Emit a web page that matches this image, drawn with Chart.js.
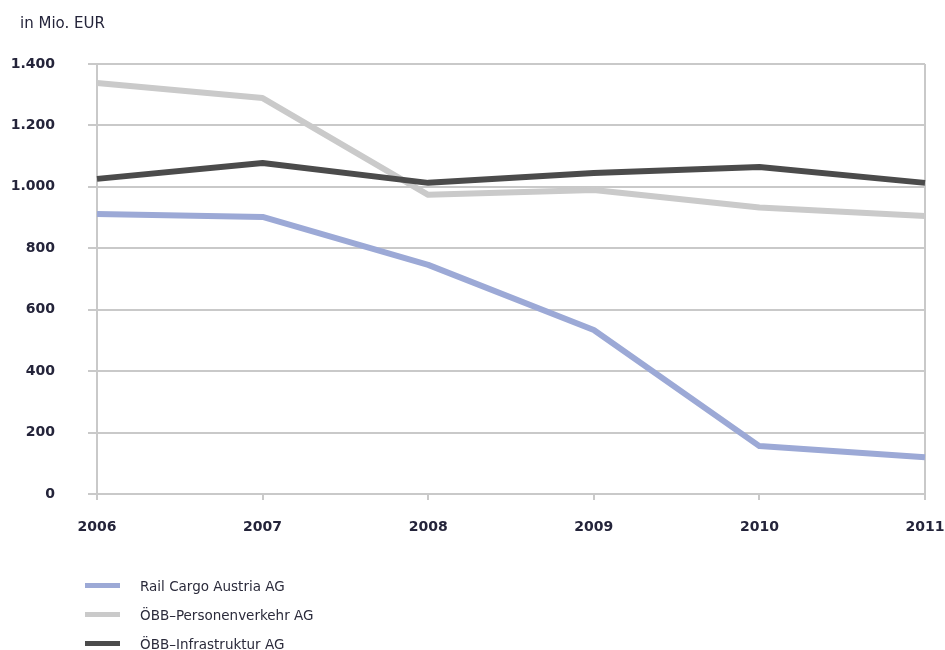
<!DOCTYPE html>
<html lang="de">
<head>
    <meta charset="UTF-8">
    <title>ÖBB Teilkonzerne | in Mio. EUR</title>
    <script src="https://cdn.jsdelivr.net/npm/chart.js"></script>
    <style>
        html, body {
            margin: 0;
            padding: 0;
            background: #ffffff;
        }
        .chart-wrap {
            position: relative;
            width: 945px;
            height: 650px;
        }
        #lineChart {
            display: block;
        }
        .einheit {
            position: absolute;
            left: 20px;
            top: 13px;
            font-family: "DejaVu Sans", sans-serif;
            font-size: 15px;
            line-height: 20px;
            color: #24243a;
        }
        /* legende unten links, wie im original */
        .legende {
            position: absolute;
            left: 85px;
            top: 571px;
            font-family: "DejaVu Sans", sans-serif;
            font-size: 13.5px;
            color: #2b2b3b;
        }
        .legende-item {
            display: flex;
            align-items: center;
            height: 29px;
        }
        .legende-item span.linie {
            display: inline-block;
            width: 35px;
            height: 5px;
            margin-right: 20px;
        }
    </style>
</head>
<body>
    <div class="chart-wrap">
        <canvas id="lineChart" width="945" height="650"></canvas>
        <div class="einheit">in Mio. EUR</div>
        <div class="legende" id="legende"></div>
    </div>
<script>
    // Daten (in Mio. EUR)
    const jahre = ['2006', '2007', '2008', '2009', '2010', '2011'];
    const railCargo = [912, 902, 746, 534, 156, 120];
    const personenverkehr = [1338, 1289, 974, 990, 933, 905];
    const infrastruktur = [1026, 1078, 1013, 1045, 1065, 1013];
    const serienNamen = ['Rail Cargo Austria AG', 'ÖBB–Personenverkehr AG', 'ÖBB–Infrastruktur AG'];
    const farben = ['#9ca9d6', '#cacaca', '#4b4b4b'];

    const gitterFarbe = '#c9c9c9';
    const textFarbe = '#24243a';

    // tausender-punkt wie 1.400
    function formatZahl(v) {
        return String(v).replace(/\B(?=(\d{3})+(?!\d))/g, '.');
    }

    const serien = [railCargo, personenverkehr, infrastruktur];
    const datasets = serien.map((werte, i) => ({
        label: serienNamen[i],
        data: werte,
        borderColor: farben[i],
        backgroundColor: farben[i],
        borderWidth: 6,
        tension: 0,
        pointRadius: 0,
        borderCapStyle: 'butt',
        borderJoinStyle: 'round',
        order: 2 - i   // dunkle linie liegt oben
    }));

    new Chart(document.getElementById('lineChart').getContext('2d'), {
        type: 'line',
        data: {
            labels: jahre,
            datasets: datasets
        },
        options: {
            responsive: false,
            animation: false,
            layout: {
                padding: { left: 0, right: 0, top: 64, bottom: 0 }
            },
            plugins: {
                legend: { display: false },
                tooltip: { enabled: false },
                title: { display: false }
            },
            scales: {
                x: {
                    offset: false,
                    afterFit: function (scale) {
                        scale.height = 156;
                        // platz rechts nur fuer das halbe label "2011"
                        scale.paddingLeft = 0;
                        scale.paddingRight = 20;
                    },
                    grid: {
                        color: ctx => (ctx.index === 0 || ctx.index === jahre.length - 1) ? gitterFarbe : 'rgba(0,0,0,0)',
                        lineWidth: 2,
                        tickLength: 6,
                        tickColor: gitterFarbe
                    },
                    border: { color: gitterFarbe, width: 2 },
                    ticks: {
                        color: textFarbe,
                        padding: 19,
                        maxRotation: 0,
                        font: { family: 'DejaVu Sans', size: 14, weight: 'bold' }
                    }
                },
                y: {
                    min: 0,
                    max: 1400,
                    afterFit: function (scale) { scale.width = 97; },
                    grid: {
                        color: gitterFarbe,
                        lineWidth: 2,
                        tickLength: 9
                    },
                    border: { color: gitterFarbe, width: 2 },
                    ticks: {
                        stepSize: 200,
                        color: textFarbe,
                        padding: 33,
                        font: { family: 'DejaVu Sans', size: 14, weight: 'bold' },
                        callback: v => formatZahl(v)
                    }
                }
            }
        }
    });

    // legende aus den gleichen arrays bauen
    const legende = document.getElementById('legende');
    serienNamen.forEach((name, i) => {
        const item = document.createElement('div');
        item.className = 'legende-item';
        item.innerHTML = '<span class="linie" style="background:' + farben[i] + '"></span>' + name;
        legende.appendChild(item);
    });
</script>
</body>
</html>
